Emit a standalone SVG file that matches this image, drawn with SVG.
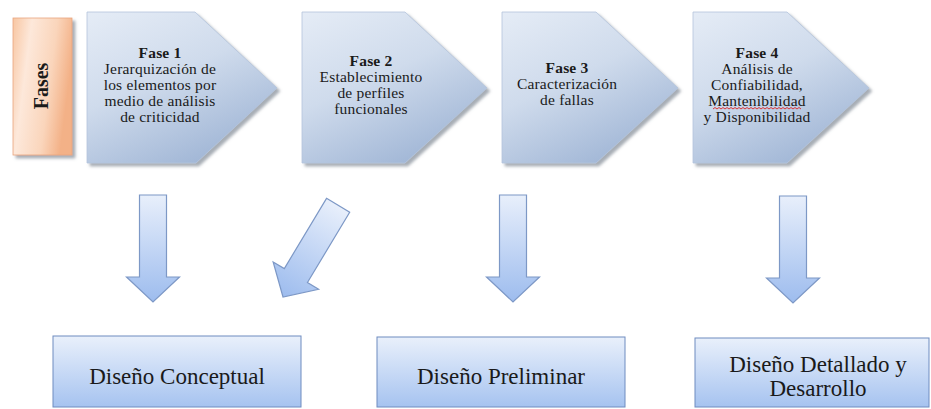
<svg xmlns="http://www.w3.org/2000/svg" width="931" height="409" viewBox="0 0 931 409">
<defs>
  <linearGradient id="gPent" x1="0" y1="0" x2="0.55" y2="1">
    <stop offset="0" stop-color="#e5ecf6"/>
    <stop offset="0.5" stop-color="#cfdbec"/>
    <stop offset="1" stop-color="#a3b8d7"/>
  </linearGradient>
  <linearGradient id="gFases" x1="0" y1="0" x2="1" y2="0.3">
    <stop offset="0" stop-color="#f8c6a2"/>
    <stop offset="0.3" stop-color="#fde8da"/>
    <stop offset="0.7" stop-color="#fad5bb"/>
    <stop offset="1" stop-color="#f3b187"/>
  </linearGradient>
  <linearGradient id="gBox" x1="0" y1="0" x2="0" y2="1">
    <stop offset="0" stop-color="#e9f0fb"/>
    <stop offset="1" stop-color="#a6c3f0"/>
  </linearGradient>
  <linearGradient id="gArr" x1="0" y1="0" x2="0" y2="1">
    <stop offset="0" stop-color="#e8effb"/>
    <stop offset="1" stop-color="#9dbcee"/>
  </linearGradient>
  <filter id="sh" x="-10%" y="-10%" width="130%" height="130%">
    <feDropShadow dx="3" dy="3" stdDeviation="1.5" flood-color="#6d7784" flood-opacity="0.6"/>
  </filter>
  <path id="arr" d="M-13.5,-107 L13.5,-107 L13.5,-25 L26.5,-25 L0,0 L-26.5,-25 L-13.5,-25 Z"/>
</defs>
<style>
  .pent { fill: url(#gPent); stroke: #b4c4dc; stroke-width: 0.8; filter: url(#sh); }
  .fases { fill: url(#gFases); stroke: #e8a57e; stroke-width: 0.8; filter: url(#sh); }
  .box { fill: url(#gBox); stroke: #6f8cc0; stroke-width: 1; }
  .arrow { fill: url(#gArr); stroke: #7d98c6; stroke-width: 1.2; }
  text { fill: #1a1a1a; text-anchor: middle; }
  .ph { font-size: 15.5px; letter-spacing: 0.2px; }
  .b { font-weight: bold; }
  .big { font-size: 23px; }
</style>

<g id="fases">
  <rect class="fases" x="13" y="18" width="59" height="137"/>
  <text class="b" font-family="'Liberation Serif', 'Times New Roman', 'DejaVu Serif', serif" font-size="20" transform="translate(48,86) rotate(-90)">Fases</text>
</g>

<g id="fase1">
  <path class="pent" d="M87,12 L195,12 L277,88 L196,163 L87,163 Z"/>
  <text class="ph" font-family="'Liberation Serif', 'Times New Roman', 'DejaVu Serif', serif"><tspan class="b" x="160" y="58">Fase 1</tspan><tspan x="160" y="74">Jerarquización de</tspan><tspan x="160" y="90">los elementos por</tspan><tspan x="160" y="106">medio de análisis</tspan><tspan x="160" y="122">de criticidad</tspan></text>
</g>

<g id="fase2">
  <path class="pent" d="M302,12 L405,12 L487,88 L405,163 L302,163 Z"/>
  <text class="ph" font-family="'Liberation Serif', 'Times New Roman', 'DejaVu Serif', serif"><tspan class="b" x="371" y="66">Fase 2</tspan><tspan x="371" y="82">Establecimiento</tspan><tspan x="371" y="98">de perfiles</tspan><tspan x="371" y="114">funcionales</tspan></text>
</g>

<g id="fase3">
  <path class="pent" d="M502,12 L596,12 L678,88 L596,163 L502,163 Z"/>
  <text class="ph" font-family="'Liberation Serif', 'Times New Roman', 'DejaVu Serif', serif"><tspan class="b" x="567" y="73">Fase 3</tspan><tspan x="567" y="89">Caracterización</tspan><tspan x="567" y="105">de fallas</tspan></text>
</g>

<g id="fase4">
  <path class="pent" d="M693,12 L787,12 L869,88 L787,163 L693,163 Z"/>
  <text class="ph" font-family="'Liberation Serif', 'Times New Roman', 'DejaVu Serif', serif"><tspan class="b" x="757" y="58">Fase 4</tspan><tspan x="757" y="74">Análisis de</tspan><tspan x="757" y="90">Confiabilidad,</tspan><tspan x="757" y="106">Mantenibilidad</tspan><tspan x="757" y="122">y Disponibilidad</tspan></text>
  <path d="M713,109 l2,-1.5 l2,1.5 l2,-1.5 l2,1.5 l2,-1.5 l2,1.5 l2,-1.5 l2,1.5 l2,-1.5 l2,1.5 l2,-1.5 l2,1.5 l2,-1.5 l2,1.5 l2,-1.5 l2,1.5 l2,-1.5 l2,1.5 l2,-1.5 l2,1.5 l2,-1.5 l2,1.5 l2,-1.5 l2,1.5 l2,-1.5 l2,1.5 l2,-1.5 l2,1.5 l2,-1.5 l2,1.5 l2,-1.5 l2,1.5 l2,-1.5 l2,1.5 l2,-1.5 l2,1.5 l2,-1.5 l2,1.5 l2,-1.5 l2,1.5 l2,-1.5 l2,1.5 l2,-1.5 l2,1.5" fill="none" stroke="#d22" stroke-width="0.9"/>
</g>

<g id="connectors">
  <use href="#arr" class="arrow" transform="translate(153,302)"/>
  <use href="#arr" class="arrow" transform="translate(283,297) rotate(31)"/>
  <use href="#arr" class="arrow" transform="translate(513,302)"/>
  <use href="#arr" class="arrow" transform="translate(793,303)"/>
</g>

<g id="diseno-conceptual">
  <rect class="box" x="53" y="336" width="248" height="71"/>
  <text class="big" font-family="'Liberation Serif', 'Times New Roman', 'DejaVu Serif', serif" x="177" y="384">Diseño Conceptual</text>
</g>

<g id="diseno-preliminar">
  <rect class="box" x="377" y="337" width="248" height="70"/>
  <text class="big" font-family="'Liberation Serif', 'Times New Roman', 'DejaVu Serif', serif" x="501" y="384">Diseño Preliminar</text>
</g>

<g id="diseno-detallado">
  <rect class="box" x="695" y="338" width="234" height="69"/>
  <text class="big" font-family="'Liberation Serif', 'Times New Roman', 'DejaVu Serif', serif"><tspan x="818" y="372">Diseño Detallado y</tspan><tspan x="818" y="396">Desarrollo</tspan></text>
</g>
</svg>
